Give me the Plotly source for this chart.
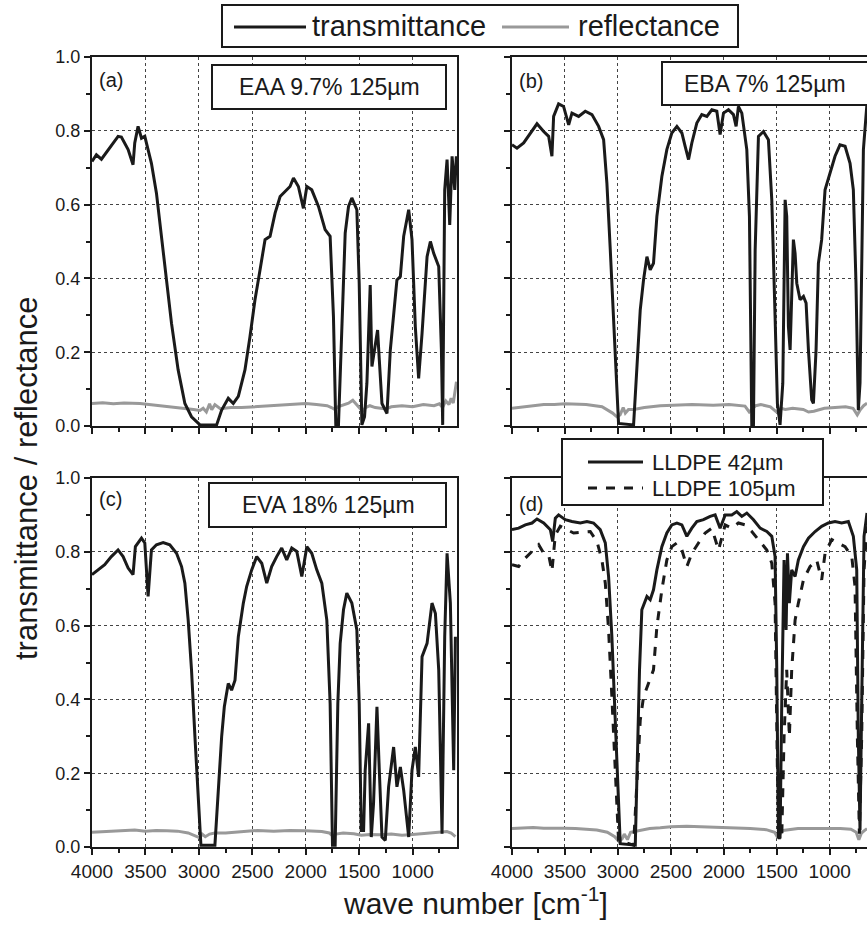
import plotly.graph_objects as go

# ---------------- data ----------------
a_wn = [4000, 3959, 3912, 3850, 3756, 3725, 3662, 3616, 3600, 3569, 3537, 3506, 3444, 3397, 3350, 3303, 3256, 3194, 3131, 3069, 2990, 2834, 2787, 2725, 2678, 2631, 2569, 2522, 2475, 2428, 2381, 2334, 2287, 2240, 2194, 2147, 2115, 2069, 2022, 1990, 1944, 1881, 1819, 1772, 1741, 1719, 1694, 1662, 1631, 1600, 1569, 1522, 1500, 1475, 1450, 1428, 1397, 1381, 1350, 1328, 1312, 1287, 1240, 1209, 1147, 1115, 1084, 1037, 1006, 975, 944, 912, 865, 834, 803, 756, 731, 719, 700, 678, 653, 631, 606, 591]
a_T = [0.717, 0.735, 0.723, 0.749, 0.785, 0.783, 0.749, 0.708, 0.767, 0.812, 0.780, 0.785, 0.712, 0.631, 0.514, 0.405, 0.278, 0.152, 0.061, 0.025, 0.003, 0.003, 0.043, 0.075, 0.061, 0.080, 0.152, 0.242, 0.342, 0.423, 0.505, 0.514, 0.577, 0.622, 0.636, 0.649, 0.672, 0.649, 0.590, 0.649, 0.640, 0.595, 0.532, 0.514, 0.297, 0.003, 0.003, 0.297, 0.523, 0.595, 0.618, 0.586, 0.387, 0.003, 0.025, 0.116, 0.382, 0.161, 0.215, 0.260, 0.179, 0.061, 0.034, 0.206, 0.396, 0.405, 0.514, 0.586, 0.505, 0.269, 0.129, 0.251, 0.459, 0.500, 0.468, 0.432, 0.206, 0.003, 0.640, 0.722, 0.545, 0.731, 0.640, 0.731]
a_R_wn = [4000, 3900, 3800, 3700, 3550, 3450, 3300, 3150, 3050, 2990, 2960, 2930, 2900, 2880, 2850, 2800, 2700, 2600, 2500, 2400, 2300, 2200, 2100, 2000, 1900, 1800, 1760, 1730, 1700, 1650, 1600, 1560, 1530, 1490, 1470, 1440, 1400, 1350, 1300, 1250, 1200, 1100, 1000, 900, 800, 750, 720, 690, 660, 640, 620, 600, 590]
a_R = [0.061, 0.063, 0.060, 0.062, 0.061, 0.058, 0.052, 0.048, 0.045, 0.042, 0.048, 0.038, 0.060, 0.044, 0.058, 0.047, 0.050, 0.050, 0.052, 0.053, 0.056, 0.058, 0.060, 0.061, 0.058, 0.055, 0.050, 0.045, 0.052, 0.058, 0.062, 0.070, 0.060, 0.046, 0.040, 0.050, 0.055, 0.050, 0.048, 0.046, 0.052, 0.055, 0.052, 0.058, 0.055, 0.060, 0.050, 0.068, 0.058, 0.075, 0.062, 0.095, 0.120]

b_wn = [4000, 3953, 3890, 3827, 3764, 3701, 3654, 3623, 3607, 3560, 3513, 3465, 3434, 3371, 3308, 3245, 3182, 3135, 3104, 3072, 3041, 3016, 2994, 2852, 2821, 2789, 2758, 2726, 2695, 2664, 2632, 2585, 2538, 2491, 2443, 2396, 2365, 2333, 2302, 2255, 2208, 2160, 2113, 2066, 2035, 2003, 1956, 1909, 1884, 1862, 1830, 1783, 1758, 1736, 1720, 1704, 1673, 1626, 1579, 1547, 1516, 1494, 1469, 1443, 1421, 1406, 1390, 1374, 1343, 1327, 1311, 1280, 1248, 1223, 1201, 1170, 1154, 1129, 1107, 1076, 1044, 997, 950, 903, 855, 808, 777, 752, 730, 714, 682, 648]
b_T = [0.762, 0.753, 0.767, 0.794, 0.819, 0.798, 0.785, 0.731, 0.839, 0.873, 0.866, 0.816, 0.848, 0.839, 0.853, 0.844, 0.812, 0.776, 0.658, 0.477, 0.297, 0.116, 0.007, 0.003, 0.161, 0.315, 0.396, 0.459, 0.423, 0.441, 0.568, 0.676, 0.749, 0.794, 0.812, 0.794, 0.758, 0.722, 0.767, 0.821, 0.844, 0.839, 0.857, 0.853, 0.790, 0.848, 0.857, 0.844, 0.812, 0.866, 0.848, 0.749, 0.568, 0.003, 0.003, 0.477, 0.785, 0.798, 0.776, 0.613, 0.297, 0.061, 0.003, 0.116, 0.613, 0.568, 0.269, 0.206, 0.505, 0.468, 0.387, 0.342, 0.351, 0.333, 0.206, 0.071, 0.061, 0.206, 0.441, 0.505, 0.640, 0.685, 0.731, 0.762, 0.758, 0.712, 0.640, 0.387, 0.043, 0.116, 0.749, 0.875]
b_R_wn = [4000, 3900, 3800, 3700, 3600, 3500, 3300, 3150, 3050, 3010, 2980, 2950, 2930, 2900, 2850, 2750, 2600, 2450, 2300, 2100, 1950, 1800, 1760, 1735, 1700, 1650, 1560, 1490, 1460, 1420, 1350, 1250, 1200, 1150, 1050, 950, 850, 780, 740, 710, 680, 648]
b_R = [0.048, 0.052, 0.055, 0.058, 0.058, 0.060, 0.058, 0.052, 0.035, 0.025, 0.030, 0.050, 0.035, 0.045, 0.045, 0.050, 0.055, 0.057, 0.058, 0.056, 0.058, 0.054, 0.038, 0.045, 0.055, 0.058, 0.052, 0.035, 0.048, 0.045, 0.048, 0.045, 0.038, 0.040, 0.048, 0.050, 0.052, 0.048, 0.030, 0.045, 0.055, 0.062]

c_wn = [4000, 3944, 3881, 3819, 3756, 3709, 3662, 3616, 3594, 3537, 3506, 3475, 3444, 3397, 3334, 3272, 3209, 3162, 3131, 3100, 3069, 3037, 3006, 2981, 2850, 2819, 2787, 2762, 2725, 2694, 2662, 2631, 2584, 2553, 2506, 2459, 2412, 2365, 2319, 2272, 2225, 2178, 2131, 2084, 2037, 1990, 1944, 1897, 1850, 1803, 1772, 1750, 1725, 1700, 1678, 1647, 1616, 1569, 1522, 1500, 1481, 1459, 1444, 1412, 1387, 1366, 1334, 1312, 1287, 1256, 1225, 1178, 1147, 1115, 1084, 1037, 1006, 975, 944, 912, 865, 819, 787, 756, 725, 700, 678, 647, 616, 600]
c_T = [0.738, 0.751, 0.765, 0.787, 0.805, 0.787, 0.756, 0.738, 0.814, 0.837, 0.824, 0.679, 0.805, 0.819, 0.825, 0.819, 0.796, 0.760, 0.715, 0.615, 0.480, 0.299, 0.118, 0.005, 0.005, 0.163, 0.299, 0.380, 0.443, 0.425, 0.452, 0.570, 0.661, 0.706, 0.751, 0.787, 0.769, 0.715, 0.760, 0.787, 0.810, 0.778, 0.810, 0.801, 0.733, 0.814, 0.796, 0.751, 0.715, 0.615, 0.389, 0.005, 0.005, 0.389, 0.552, 0.643, 0.688, 0.661, 0.588, 0.389, 0.045, 0.045, 0.208, 0.335, 0.027, 0.118, 0.380, 0.208, 0.027, 0.018, 0.163, 0.271, 0.163, 0.217, 0.154, 0.027, 0.208, 0.271, 0.190, 0.516, 0.552, 0.661, 0.633, 0.480, 0.036, 0.570, 0.796, 0.661, 0.208, 0.570]
c_R_wn = [4000, 3900, 3800, 3700, 3600, 3500, 3400, 3300, 3200, 3100, 3030, 2990, 2970, 2940, 2900, 2850, 2750, 2600, 2450, 2300, 2150, 2000, 1850, 1780, 1750, 1720, 1650, 1550, 1480, 1400, 1300, 1200, 1100, 1000, 900, 800, 720, 680, 640, 610, 600]
c_R = [0.040, 0.042, 0.044, 0.045, 0.046, 0.043, 0.045, 0.044, 0.043, 0.038, 0.030, 0.025, 0.035, 0.028, 0.035, 0.038, 0.038, 0.042, 0.045, 0.043, 0.045, 0.044, 0.042, 0.038, 0.030, 0.035, 0.038, 0.036, 0.032, 0.034, 0.033, 0.035, 0.032, 0.034, 0.036, 0.038, 0.040, 0.042, 0.038, 0.030, 0.028]

d42_wn = [4000, 3937, 3874, 3811, 3764, 3701, 3638, 3616, 3591, 3560, 3497, 3434, 3355, 3292, 3230, 3167, 3119, 3088, 3057, 3025, 3003, 2978, 2836, 2821, 2796, 2774, 2726, 2695, 2664, 2632, 2585, 2538, 2491, 2443, 2396, 2349, 2302, 2255, 2192, 2129, 2082, 2035, 1987, 1925, 1878, 1830, 1783, 1720, 1657, 1594, 1547, 1516, 1500, 1484, 1469, 1453, 1431, 1412, 1399, 1381, 1359, 1327, 1296, 1248, 1201, 1138, 1076, 1013, 950, 887, 824, 777, 745, 730, 714, 698, 676, 648]
d42_T = [0.860, 0.864, 0.873, 0.878, 0.889, 0.878, 0.860, 0.828, 0.891, 0.900, 0.887, 0.882, 0.878, 0.882, 0.878, 0.860, 0.824, 0.733, 0.570, 0.344, 0.163, 0.009, 0.005, 0.208, 0.480, 0.643, 0.679, 0.670, 0.697, 0.751, 0.814, 0.851, 0.873, 0.878, 0.873, 0.842, 0.864, 0.882, 0.887, 0.896, 0.900, 0.864, 0.900, 0.900, 0.909, 0.896, 0.905, 0.887, 0.864, 0.855, 0.842, 0.787, 0.480, 0.027, 0.027, 0.389, 0.778, 0.588, 0.796, 0.661, 0.751, 0.733, 0.778, 0.814, 0.837, 0.855, 0.869, 0.878, 0.882, 0.878, 0.882, 0.842, 0.751, 0.299, 0.045, 0.389, 0.842, 0.905]
d105_wn = [4000, 3937, 3874, 3811, 3748, 3701, 3654, 3623, 3591, 3544, 3481, 3418, 3340, 3261, 3198, 3151, 3119, 3088, 3057, 3025, 2994, 2852, 2821, 2789, 2758, 2711, 2664, 2632, 2585, 2538, 2491, 2443, 2396, 2349, 2302, 2239, 2176, 2113, 2050, 1987, 1925, 1862, 1799, 1736, 1673, 1594, 1547, 1516, 1494, 1475, 1453, 1431, 1406, 1381, 1359, 1327, 1296, 1248, 1186, 1123, 1076, 1044, 981, 918, 855, 792, 761, 739, 720, 698, 676, 648]
d105_T = [0.765, 0.760, 0.783, 0.801, 0.819, 0.796, 0.792, 0.747, 0.846, 0.869, 0.860, 0.851, 0.853, 0.855, 0.828, 0.778, 0.715, 0.588, 0.407, 0.208, 0.018, 0.005, 0.163, 0.344, 0.407, 0.443, 0.480, 0.597, 0.697, 0.778, 0.814, 0.824, 0.805, 0.760, 0.796, 0.824, 0.851, 0.864, 0.805, 0.873, 0.864, 0.878, 0.873, 0.855, 0.833, 0.805, 0.769, 0.661, 0.208, 0.018, 0.027, 0.299, 0.480, 0.299, 0.480, 0.615, 0.661, 0.724, 0.760, 0.778, 0.724, 0.796, 0.833, 0.824, 0.814, 0.787, 0.706, 0.299, 0.036, 0.299, 0.751, 0.869]
d_R_wn = [4000, 3900, 3800, 3700, 3600, 3500, 3400, 3300, 3200, 3100, 3030, 2990, 2960, 2940, 2910, 2880, 2800, 2700, 2600, 2500, 2350, 2200, 2050, 1900, 1750, 1600, 1520, 1490, 1470, 1440, 1380, 1300, 1200, 1100, 1000, 900, 800, 750, 725, 700, 670, 648]
d_R = [0.050, 0.052, 0.053, 0.051, 0.052, 0.051, 0.050, 0.049, 0.046, 0.040, 0.028, 0.015, 0.022, 0.035, 0.020, 0.040, 0.045, 0.050, 0.052, 0.055, 0.056, 0.055, 0.054, 0.053, 0.050, 0.047, 0.040, 0.025, 0.035, 0.045, 0.048, 0.050, 0.050, 0.050, 0.052, 0.050, 0.048, 0.040, 0.020, 0.038, 0.045, 0.050]

panel_labels = ["(a)", "(b)", "(c)", "(d)"]
sample_labels = ["EAA 9.7% 125µm", "EBA 7% 125µm", "EVA 18% 125µm"]
series_names = ["transmittance", "reflectance"]
lldpe_names = ["LLDPE 42µm", "LLDPE 105µm"]
x_ticks = [4000, 3500, 3000, 2500, 2000, 1500, 1000]
y_ticks = [0.0, 0.2, 0.4, 0.6, 0.8, 1.0]

# ---------------- layout helpers ----------------
W, H = 867, 929
def px(x):
    return x / W
def py(y):
    return 1 - y / H

BLACK = "#1a1a1a"
GRAY = "#999999"
FONT = "Liberation Sans, Arial, Helvetica, sans-serif"

fig = go.Figure()

panels = [
    ("x", "y", a_wn, a_T, a_R_wn, a_R),
    ("x2", "y2", b_wn, b_T, b_R_wn, b_R),
    ("x3", "y3", c_wn, c_T, c_R_wn, c_R),
]
for xa, ya, wn, T, rwn, R in panels:
    fig.add_trace(go.Scatter(x=rwn, y=R, mode="lines", name=series_names[1],
                             line=dict(color=GRAY, width=3), xaxis=xa, yaxis=ya, showlegend=False))
    fig.add_trace(go.Scatter(x=wn, y=T, mode="lines", name=series_names[0],
                             line=dict(color=BLACK, width=3), xaxis=xa, yaxis=ya, showlegend=False))
fig.add_trace(go.Scatter(x=d_R_wn, y=d_R, mode="lines", name=series_names[1],
                         line=dict(color=GRAY, width=3), xaxis="x4", yaxis="y4", showlegend=False))
fig.add_trace(go.Scatter(x=d105_wn, y=d105_T, mode="lines", name=lldpe_names[1],
                         line=dict(color=BLACK, width=3, dash="dash"), xaxis="x4", yaxis="y4", showlegend=False))
fig.add_trace(go.Scatter(x=d42_wn, y=d42_T, mode="lines", name=lldpe_names[0],
                         line=dict(color=BLACK, width=3), xaxis="x4", yaxis="y4", showlegend=False))

left_dom = [px(92), px(457)]
right_dom = [px(512), 1.0]
top_dom = [py(426), py(57)]
bot_dom = [py(847), py(478)]

def xax(dom, rng, labels, anchor):
    return dict(domain=dom, range=rng, anchor=anchor, tickmode="array", tickvals=x_ticks,
                automargin=False,
                showticklabels=labels, ticks="outside", ticklen=6, tickwidth=2, tickcolor=BLACK,
                showline=True, linewidth=2, linecolor=BLACK, mirror=True,
                showgrid=True, gridcolor="#444444", gridwidth=1, griddash="dot",
                zeroline=False,
                minor=dict(dtick=250, ticks="outside", ticklen=4, tickwidth=2, tickcolor=BLACK, showgrid=False),
                tickfont=dict(family=FONT, size=19, color=BLACK))

def yax(dom, labels, anchor, mirror):
    return dict(domain=dom, range=[0, 1.0], anchor=anchor, tickmode="array", tickvals=y_ticks,
                tickformat=".1f", automargin=False,
                showticklabels=labels, ticks="outside", ticklen=6, tickwidth=2, tickcolor=BLACK,
                showline=True, linewidth=2, linecolor=BLACK, mirror=mirror,
                showgrid=True, gridcolor="#444444", gridwidth=1, griddash="dot",
                zeroline=False,
                minor=dict(dtick=0.1, ticks="outside", ticklen=4, tickwidth=2, tickcolor=BLACK, showgrid=False),
                tickfont=dict(family=FONT, size=18, color=BLACK))

fig.update_layout(
    template="none",
    width=W, height=H, margin=dict(l=0, r=0, t=0, b=0, autoexpand=False),
    paper_bgcolor="white", plot_bgcolor="white", showlegend=False,
    font=dict(family=FONT, color=BLACK),
    xaxis=xax(left_dom, [4000, 585], False, "y"),
    yaxis=yax(top_dom, True, "x", True),
    xaxis2=xax(right_dom, [4000, 648], False, "y2"),
    yaxis2=yax(top_dom, False, "x2", False),
    xaxis3=xax(left_dom, [4000, 585], True, "y3"),
    yaxis3=yax(bot_dom, True, "x3", True),
    xaxis4=xax(right_dom, [4000, 648], True, "y4"),
    yaxis4=yax(bot_dom, False, "x4", False),
)

shapes = []
annots = []

def rect(x0, y0, x1, y1):
    shapes.append(dict(type="rect", xref="paper", yref="paper", x0=px(x0), x1=px(x1), y0=py(y1), y1=py(y0),
                       line=dict(color=BLACK, width=2), fillcolor="white", layer="above"))

def hline(x0, x1, y, color, dash=None):
    ln = dict(color=color, width=3)
    if dash:
        ln["dash"] = dash
    shapes.append(dict(type="line", xref="paper", yref="paper", x0=px(x0), x1=px(x1), y0=py(y), y1=py(y),
                       line=ln, layer="above"))

def text(x, y, s, size, xanchor="center", angle=0):
    annots.append(dict(xref="paper", yref="paper", x=px(x), y=py(y), text=s, showarrow=False,
                       xanchor=xanchor, yanchor="middle", textangle=angle,
                       font=dict(family=FONT, size=size, color=BLACK)))

# top legend
rect(222, 5, 738, 47)
hline(234, 306, 27, BLACK)
text(310, 26, series_names[0], 29, "left")
hline(502, 569, 27, GRAY)
text(576, 26, series_names[1], 29, "left")

# sample boxes
rect(212, 65, 446, 109)
text(329, 87, sample_labels[0], 23)
rect(662, 62, 875, 105)
text(765, 84, sample_labels[1], 23)
rect(209, 483, 446, 527)
text(328, 505, sample_labels[2], 23)

# LLDPE legend
rect(562, 439, 823, 505)
hline(588, 643, 462, BLACK)
text(650, 462, lldpe_names[0], 22, "left")
hline(588, 643, 488, BLACK, "dash")
text(650, 488, lldpe_names[1], 22, "left")

# panel letters
text(97, 80, panel_labels[0], 20, "left")
text(517, 81, panel_labels[1], 20, "left")
text(97, 499, panel_labels[2], 20, "left")
text(517, 504, panel_labels[3], 20, "left")

# axis titles
text(26, 478, "transmittance / reflectance", 31, "center", -90)
text(475, 901, "wave number [cm<sup>-1</sup>]", 30)

fig.update_layout(shapes=shapes, annotations=annots)
fig.write_html("out.html", config={"displayModeBar": False},
               post_script="document.body.style.margin='0px';")
